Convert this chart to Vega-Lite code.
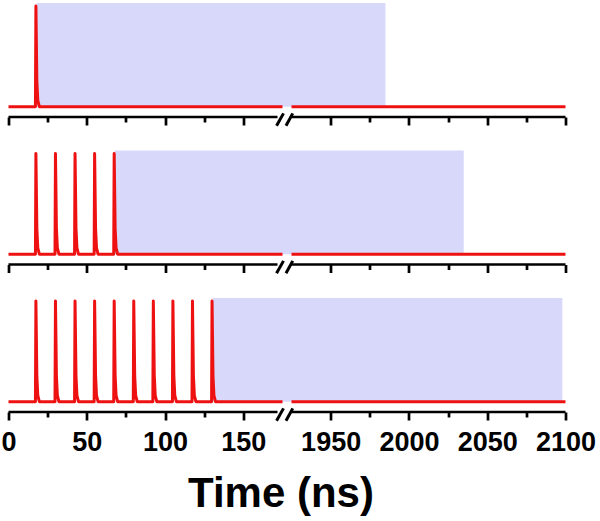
{
  "$schema": "https://vega.github.io/schema/vega-lite/v6.json",
  "padding": {"left": 0.5, "top": 3, "right": 5, "bottom": 5},
  "background": "white",
  "config": {"view": {"stroke": null}, "font": "Liberation Sans"},
  "bounds": "flush",
  "spacing": 33.5,
  "datasets": {
    "signal": [
      {"p":1,"s":"L","t":0,"v":0},
      {"p":1,"s":"L","t":17.2,"v":0},{"p":1,"s":"L","t":17.5,"v":0.97},{"p":1,"s":"L","t":18.1,"v":0.25},{"p":1,"s":"L","t":18.7,"v":0.06},{"p":1,"s":"L","t":19.7,"v":0},
      {"p":1,"s":"L","t":175,"v":0},
      {"p":1,"s":"R","t":1925,"v":0},{"p":1,"s":"R","t":2100,"v":0},

      {"p":2,"s":"L","t":0,"v":0},
      {"p":2,"s":"L","t":17.2,"v":0},{"p":2,"s":"L","t":17.5,"v":0.97},{"p":2,"s":"L","t":18.1,"v":0.25},{"p":2,"s":"L","t":18.7,"v":0.06},{"p":2,"s":"L","t":19.7,"v":0},
      {"p":2,"s":"L","t":29.7,"v":0},{"p":2,"s":"L","t":30,"v":0.97},{"p":2,"s":"L","t":30.6,"v":0.25},{"p":2,"s":"L","t":31.2,"v":0.06},{"p":2,"s":"L","t":32.2,"v":0},
      {"p":2,"s":"L","t":42.2,"v":0},{"p":2,"s":"L","t":42.5,"v":0.97},{"p":2,"s":"L","t":43.1,"v":0.25},{"p":2,"s":"L","t":43.7,"v":0.06},{"p":2,"s":"L","t":44.7,"v":0},
      {"p":2,"s":"L","t":54.7,"v":0},{"p":2,"s":"L","t":55,"v":0.97},{"p":2,"s":"L","t":55.6,"v":0.25},{"p":2,"s":"L","t":56.2,"v":0.06},{"p":2,"s":"L","t":57.2,"v":0},
      {"p":2,"s":"L","t":67.2,"v":0},{"p":2,"s":"L","t":67.5,"v":0.97},{"p":2,"s":"L","t":68.1,"v":0.25},{"p":2,"s":"L","t":68.7,"v":0.06},{"p":2,"s":"L","t":69.7,"v":0},
      {"p":2,"s":"L","t":175,"v":0},
      {"p":2,"s":"R","t":1925,"v":0},{"p":2,"s":"R","t":2100,"v":0},

      {"p":3,"s":"L","t":0,"v":0},
      {"p":3,"s":"L","t":17.2,"v":0},{"p":3,"s":"L","t":17.5,"v":0.97},{"p":3,"s":"L","t":18.1,"v":0.25},{"p":3,"s":"L","t":18.7,"v":0.06},{"p":3,"s":"L","t":19.7,"v":0},
      {"p":3,"s":"L","t":29.7,"v":0},{"p":3,"s":"L","t":30,"v":0.97},{"p":3,"s":"L","t":30.6,"v":0.25},{"p":3,"s":"L","t":31.2,"v":0.06},{"p":3,"s":"L","t":32.2,"v":0},
      {"p":3,"s":"L","t":42.2,"v":0},{"p":3,"s":"L","t":42.5,"v":0.97},{"p":3,"s":"L","t":43.1,"v":0.25},{"p":3,"s":"L","t":43.7,"v":0.06},{"p":3,"s":"L","t":44.7,"v":0},
      {"p":3,"s":"L","t":54.7,"v":0},{"p":3,"s":"L","t":55,"v":0.97},{"p":3,"s":"L","t":55.6,"v":0.25},{"p":3,"s":"L","t":56.2,"v":0.06},{"p":3,"s":"L","t":57.2,"v":0},
      {"p":3,"s":"L","t":67.2,"v":0},{"p":3,"s":"L","t":67.5,"v":0.97},{"p":3,"s":"L","t":68.1,"v":0.25},{"p":3,"s":"L","t":68.7,"v":0.06},{"p":3,"s":"L","t":69.7,"v":0},
      {"p":3,"s":"L","t":79.7,"v":0},{"p":3,"s":"L","t":80,"v":0.97},{"p":3,"s":"L","t":80.6,"v":0.25},{"p":3,"s":"L","t":81.2,"v":0.06},{"p":3,"s":"L","t":82.2,"v":0},
      {"p":3,"s":"L","t":92.2,"v":0},{"p":3,"s":"L","t":92.5,"v":0.97},{"p":3,"s":"L","t":93.1,"v":0.25},{"p":3,"s":"L","t":93.7,"v":0.06},{"p":3,"s":"L","t":94.7,"v":0},
      {"p":3,"s":"L","t":104.7,"v":0},{"p":3,"s":"L","t":105,"v":0.97},{"p":3,"s":"L","t":105.6,"v":0.25},{"p":3,"s":"L","t":106.2,"v":0.06},{"p":3,"s":"L","t":107.2,"v":0},
      {"p":3,"s":"L","t":117.2,"v":0},{"p":3,"s":"L","t":117.5,"v":0.97},{"p":3,"s":"L","t":118.1,"v":0.25},{"p":3,"s":"L","t":118.7,"v":0.06},{"p":3,"s":"L","t":119.7,"v":0},
      {"p":3,"s":"L","t":129.7,"v":0},{"p":3,"s":"L","t":130,"v":0.97},{"p":3,"s":"L","t":130.6,"v":0.25},{"p":3,"s":"L","t":131.2,"v":0.06},{"p":3,"s":"L","t":132.2,"v":0},
      {"p":3,"s":"L","t":175,"v":0},
      {"p":3,"s":"R","t":1925,"v":0},{"p":3,"s":"R","t":2100,"v":0}
    ],
    "shade": [
      {"p":1,"start":17.8,"end":1985},
      {"p":2,"start":67.8,"end":2035},
      {"p":3,"start":130.3,"end":2098}
    ],
    "axisline": [
      {"a":0,"b":171.8},
      {"a":1730,"b":2100}
    ],
    "slash": [
      {"k":1,"t":171.2,"v":-0.185},{"k":1,"t":369,"v":-0.065},
      {"k":2,"t":855,"v":-0.185},{"k":2,"t":1925.8,"v":-0.065}
    ]
  },
  "vconcat": [
    {
      "width": 557, "height": 114,
      "layer": [
        {"data": {"name": "shade"}, "transform": [{"filter": "datum.p == 1"}],
         "mark": {"type": "rect", "color": "#d8d8fa"},
         "encoding": {
           "x": {"field": "start", "type": "quantitative",
                 "scale": {"domain": [0, 175, 1925, 2100], "range": [0, 274, 283, 557], "nice": false},
                 "axis": {"values": [0,25,50,75,100,125,150,1950,1975,2000,2025,2050,2075,2100], "domain": false, "labels": false, "title": null, "grid": false,
                          "tickColor": "black", "tickWidth": 2.7,
                          "tickSize": {"condition": {"test": "datum.value % 50 === 0", "value": 8}, "value": 5}}},
           "x2": {"field": "end"},
           "y": {"datum": 0, "type": "quantitative", "scale": {"domain": [-0.1, 1.0], "nice": false, "zero": false}, "axis": null},
           "y2": {"datum": 1.0}
         }},
        {"data": {"name": "signal"}, "transform": [{"filter": "datum.p == 1"}],
         "mark": {"type": "line", "color": "#ee1111", "strokeWidth": 3, "strokeJoin": "round"},
         "encoding": {"x": {"field": "t", "type": "quantitative"}, "y": {"field": "v", "type": "quantitative"}, "detail": {"field": "s"}}},
        {"data": {"name": "axisline"},
         "mark": {"type": "rule", "color": "black", "strokeWidth": 2.7},
         "encoding": {"x": {"field": "a", "type": "quantitative"}, "x2": {"field": "b"}, "y": {"datum": -0.1, "type": "quantitative"}}},
        {"data": {"name": "slash"},
         "mark": {"type": "line", "color": "black", "strokeWidth": 3},
         "encoding": {"x": {"field": "t", "type": "quantitative"}, "y": {"field": "v", "type": "quantitative"}, "detail": {"field": "k"}}}
      ]
    },
    {
      "width": 557, "height": 114,
      "layer": [
        {"data": {"name": "shade"}, "transform": [{"filter": "datum.p == 2"}],
         "mark": {"type": "rect", "color": "#d8d8fa"},
         "encoding": {
           "x": {"field": "start", "type": "quantitative",
                 "scale": {"domain": [0, 175, 1925, 2100], "range": [0, 274, 283, 557], "nice": false},
                 "axis": {"values": [0,25,50,75,100,125,150,1950,1975,2000,2025,2050,2075,2100], "domain": false, "labels": false, "title": null, "grid": false,
                          "tickColor": "black", "tickWidth": 2.7,
                          "tickSize": {"condition": {"test": "datum.value % 50 === 0", "value": 8}, "value": 5}}},
           "x2": {"field": "end"},
           "y": {"datum": 0, "type": "quantitative", "scale": {"domain": [-0.1, 1.0], "nice": false, "zero": false}, "axis": null},
           "y2": {"datum": 1.0}
         }},
        {"data": {"name": "signal"}, "transform": [{"filter": "datum.p == 2"}],
         "mark": {"type": "line", "color": "#ee1111", "strokeWidth": 3, "strokeJoin": "round"},
         "encoding": {"x": {"field": "t", "type": "quantitative"}, "y": {"field": "v", "type": "quantitative"}, "detail": {"field": "s"}}},
        {"data": {"name": "axisline"},
         "mark": {"type": "rule", "color": "black", "strokeWidth": 2.7},
         "encoding": {"x": {"field": "a", "type": "quantitative"}, "x2": {"field": "b"}, "y": {"datum": -0.1, "type": "quantitative"}}},
        {"data": {"name": "slash"},
         "mark": {"type": "line", "color": "black", "strokeWidth": 3},
         "encoding": {"x": {"field": "t", "type": "quantitative"}, "y": {"field": "v", "type": "quantitative"}, "detail": {"field": "k"}}}
      ]
    },
    {
      "width": 557, "height": 114,
      "layer": [
        {"data": {"name": "shade"}, "transform": [{"filter": "datum.p == 3"}],
         "mark": {"type": "rect", "color": "#d8d8fa"},
         "encoding": {
           "x": {"field": "start", "type": "quantitative",
                 "scale": {"domain": [0, 175, 1925, 2100], "range": [0, 274, 283, 557], "nice": false},
                 "axis": {"values": [0,25,50,75,100,125,150,1950,1975,2000,2025,2050,2075,2100], "domain": false, "grid": false,
                          "format": "d", "labelExpr": "datum.value % 50 === 0 ? datum.label : ''",
                          "labelFlush": false, "labelOverlap": false,
                          "labelFont": "Liberation Sans", "labelFontSize": 27, "labelFontWeight": "bold", "labelColor": "black", "labelPadding": 9,
                          "tickColor": "black", "tickWidth": 2.7,
                          "tickSize": {"condition": {"test": "datum.value % 50 === 0", "value": 8}, "value": 5},
                          "title": "Time (ns)", "titleFont": "Liberation Sans", "titleFontSize": 42, "titleFontWeight": "bold", "titleColor": "black", "titlePadding": 18, "titleX": 272}},
           "x2": {"field": "end"},
           "y": {"datum": 0, "type": "quantitative", "scale": {"domain": [-0.1, 1.0], "nice": false, "zero": false}, "axis": null},
           "y2": {"datum": 1.0}
         }},
        {"data": {"name": "signal"}, "transform": [{"filter": "datum.p == 3"}],
         "mark": {"type": "line", "color": "#ee1111", "strokeWidth": 3, "strokeJoin": "round"},
         "encoding": {"x": {"field": "t", "type": "quantitative"}, "y": {"field": "v", "type": "quantitative"}, "detail": {"field": "s"}}},
        {"data": {"name": "axisline"},
         "mark": {"type": "rule", "color": "black", "strokeWidth": 2.7},
         "encoding": {"x": {"field": "a", "type": "quantitative"}, "x2": {"field": "b"}, "y": {"datum": -0.1, "type": "quantitative"}}},
        {"data": {"name": "slash"},
         "mark": {"type": "line", "color": "black", "strokeWidth": 3},
         "encoding": {"x": {"field": "t", "type": "quantitative"}, "y": {"field": "v", "type": "quantitative"}, "detail": {"field": "k"}}}
      ]
    }
  ]
}
